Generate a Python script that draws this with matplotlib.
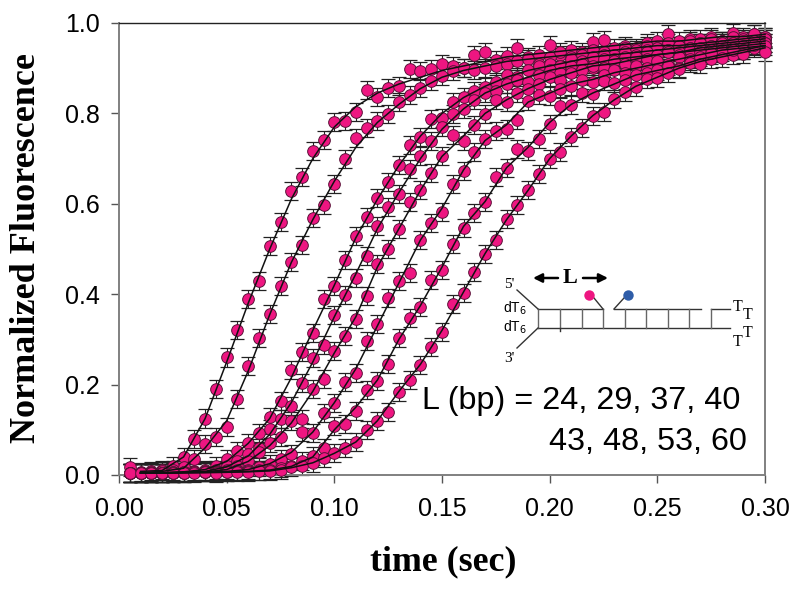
import numpy as np
import matplotlib
matplotlib.use('Agg')
import matplotlib.pyplot as plt

#time points, one reading every 5 ms
time = [i * 0.005 for i in range(1, 61)]
#fitted lines are read at every 10 ms
fit_time = [i * 0.01 for i in range(1, 31)]

L24 = [.018,.006,.008,.012,.02,.04,.08,.125,.19,.26,.32,.39,.43,.507,.56,.628,.66,.717,.741,.781,.783,.803,.852,.837,.856,.86,.898,.894,.898,.909,.905,.90,.93,.936,.918,.928,.945,.925,.93,.951,.93,.94,.935,.958,.962,.945,.95,.945,.955,.96,.975,.96,.965,.965,.97,.96,.978,.97,.975,.968]
L29 = [.005,.005,.006,.008,.01,.018,.035,.069,.084,.106,.168,.241,.303,.356,.418,.471,.509,.569,.597,.644,.70,.745,.768,.783,.798,.825,.84,.856,.872,.883,.893,.90,.897,.90,.905,.91,.915,.92,.91,.925,.935,.925,.93,.94,.935,.93,.945,.94,.95,.945,.955,.95,.96,.955,.965,.96,.97,.96,.975,.965]
L37 = [.005,.005,.004,.005,.006,.006,.008,.01,.02,.035,.053,.071,.093,.128,.164,.232,.272,.314,.389,.418,.476,.529,.571,.613,.648,.686,.73,.748,.788,.79,.825,.836,.85,.858,.87,.885,.88,.895,.905,.91,.905,.92,.915,.925,.93,.92,.935,.93,.94,.945,.94,.95,.945,.955,.95,.96,.955,.965,.96,.97]
L40 = [.004,.004,.005,.005,.006,.006,.007,.009,.012,.02,.032,.046,.06,.102,.124,.153,.204,.259,.288,.354,.398,.436,.485,.551,.593,.622,.677,.706,.739,.77,.799,.81,.83,.845,.85,.865,.875,.87,.885,.895,.89,.905,.91,.90,.92,.915,.925,.92,.935,.93,.94,.935,.945,.94,.95,.955,.945,.96,.955,.965]
L43 = [.005,.004,.004,.005,.005,.006,.006,.007,.009,.012,.02,.03,.05,.071,.084,.119,.124,.19,.212,.274,.307,.345,.396,.467,.50,.544,.604,.63,.668,.706,.752,.739,.774,.799,.83,.825,.845,.855,.865,.88,.875,.89,.895,.905,.90,.915,.91,.925,.92,.93,.935,.93,.94,.945,.94,.95,.955,.95,.96,.955]
L48 = [.004,.004,.005,.004,.005,.005,.006,.006,.007,.008,.01,.012,.018,.025,.035,.046,.095,.093,.137,.159,.206,.226,.296,.334,.392,.429,.447,.52,.558,.582,.644,.673,.715,.743,.761,.765,.785,.827,.841,.838,.855,.86,.875,.87,.885,.895,.89,.905,.90,.915,.91,.925,.92,.935,.93,.94,.945,.94,.95,.955]
L53 = [.005,.004,.004,.005,.005,.005,.006,.006,.006,.007,.008,.009,.01,.012,.016,.02,.03,.042,.06,.108,.113,.142,.188,.208,.246,.303,.347,.372,.431,.454,.511,.546,.58,.604,.659,.679,.721,.717,.743,.776,.816,.818,.845,.843,.872,.867,.875,.885,.89,.895,.905,.90,.915,.925,.92,.935,.93,.94,.945,.95]
L60 = [.004,.005,.004,.004,.005,.005,.005,.006,.005,.006,.006,.007,.008,.009,.012,.018,.02,.027,.037,.048,.06,.073,.10,.12,.139,.184,.21,.243,.283,.316,.378,.403,.45,.489,.52,.566,.597,.63,.666,.70,.715,.748,.768,.794,.803,.832,.847,.858,.876,.878,.889,.898,.911,.909,.934,.923,.94,.931,.951,.936]

fit24 = [.008,.01,.04,.125,.25,.38,.50,.61,.70,.77,.815,.845,.865,.88,.895,.905,.915,.925,.93,.935,.94,.945,.95,.955,.96,.96,.965,.97,.97,.975]
fit29 = [.005,.008,.015,.06,.12,.23,.355,.47,.565,.65,.725,.78,.82,.855,.88,.895,.905,.915,.92,.925,.93,.935,.94,.945,.95,.95,.955,.96,.965,.97]
fit37 = [.005,.005,.007,.012,.03,.07,.125,.215,.32,.42,.525,.61,.685,.75,.80,.835,.86,.88,.895,.905,.915,.925,.93,.935,.94,.945,.95,.955,.96,.965]
fit40 = [.004,.005,.006,.008,.018,.042,.09,.16,.25,.35,.445,.545,.625,.70,.765,.81,.845,.865,.88,.895,.905,.91,.92,.925,.93,.935,.945,.95,.955,.96]
fit43 = [.004,.005,.006,.007,.012,.03,.065,.115,.185,.27,.35,.46,.545,.63,.705,.75,.80,.83,.855,.875,.89,.905,.91,.92,.93,.935,.94,.945,.95,.955]
fit48 = [.004,.004,.005,.006,.008,.012,.025,.05,.095,.16,.235,.33,.425,.52,.59,.675,.74,.775,.825,.845,.865,.875,.89,.90,.91,.92,.93,.94,.945,.95]
fit53 = [.004,.004,.005,.006,.006,.008,.011,.019,.04,.10,.15,.21,.30,.375,.46,.55,.605,.68,.725,.78,.82,.845,.865,.885,.895,.905,.92,.93,.94,.95]
fit60 = [.004,.004,.005,.005,.006,.007,.009,.016,.027,.048,.073,.12,.185,.245,.32,.405,.49,.565,.63,.70,.75,.795,.83,.86,.88,.90,.915,.925,.935,.945]

series = [L24, L29, L37, L40, L43, L48, L53, L60]
fits = [fit24, fit29, fit37, fit40, fit43, fit48, fit53, fit60]
y_err = 0.02

pink = '#EE1681'
sans = 'Liberation Sans'
serif = 'Liberation Serif'

fig = plt.figure(figsize=(8, 5.95), dpi=100)
ax = fig.add_axes([119/800, 1-475/595, (765-119)/800, (475-23)/595])

for vals in series:
    eb = ax.errorbar(time, vals, yerr=y_err, fmt='none', ecolor='#222222', elinewidth=0.8,
                     capsize=5, capthick=0.9, zorder=2)
    for part in eb.lines[1] + eb.lines[2]:
        part.set_clip_on(False)
    eb.lines[1][0].set_color('#8a8a8a')  # lower caps look grey in the scan
for vals in series:
    ax.plot(time, vals, 'o', ms=8.4, mfc=pink, mec='#5a1238', mew=0.7, clip_on=False, zorder=3)
for fit in fits:
    ax.plot(fit_time, fit, color='#111111', lw=1.1, clip_on=False, zorder=4)

ax.set_xlim(0, 0.30)
ax.set_ylim(0, 1.0)
ax.set_xticks(np.arange(0, 0.31, 0.05))
ax.set_yticks(np.arange(0, 1.01, 0.2))
ax.set_xticklabels(['0.00', '0.05', '0.10', '0.15', '0.20', '0.25', '0.30'], fontname=sans, fontsize=18)
ax.set_yticklabels(['0.0', '0.2', '0.4', '0.6', '0.8', '1.0'], fontname=sans, fontsize=18)
ax.tick_params(axis='x', length=6, width=1, color='#555555', pad=10)
ax.tick_params(axis='y', length=6, width=1, color='#555555', pad=8)
for s in ['left', 'bottom', 'right']:
    ax.spines[s].set_color('#808080')
    ax.spines[s].set_linewidth(1.4)
ax.spines['top'].set_color('#222222')
ax.spines['top'].set_linewidth(1)

fig.text(443/800, 1-562/595, 'time (sec)', fontname=serif, fontweight='bold', fontsize=25.8, ha='center', va='center')
fig.text(27/800, 1-248/595, 'Normalized Fluorescence', fontname=serif, fontweight='bold', fontsize=26,
         rotation=90, ha='center', va='center')
fig.text(740/800, 1-401/595, 'L (bp) = 24, 29, 37, 40', fontname=sans, fontsize=23.3, ha='right', va='center')
fig.text(747/800, 1-442/595, '43, 48, 53, 60', fontname=sans, fontsize=23.3, ha='right', va='center')

#the duplex sketch, in picture pixels
sk = fig.add_axes([0, 0, 1, 1], facecolor='none')
sk.set_xlim(0, 800)
sk.set_ylim(595, 0)
sk.axis('off')

strand = '#333333'
sk.plot([538, 603], [309, 309], color=strand, lw=1)
sk.plot([614, 701], [309, 309], color=strand, lw=1)
sk.plot([711, 730], [309, 309], color=strand, lw=1)
sk.plot([538, 730], [328, 328], color=strand, lw=1)
for rung in [538, 560, 582, 603, 625, 646, 668, 689, 711]:
    sk.plot([rung, rung], [309, 328], color='#666666', lw=1)
sk.plot([560, 560], [328, 331], color=strand, lw=1)
sk.plot([517, 538], [290, 309], color=strand, lw=1)
sk.plot([517, 538], [348, 328], color=strand, lw=1)
sk.plot([594, 603], [298, 309], color=strand, lw=1)
sk.plot([624, 614], [298, 309], color=strand, lw=1)
sk.plot([589], [295], 'o', ms=7.5, color=pink, mew=0)
sk.plot([628], [295], 'o', ms=7.5, color='#2F5DA8', mew=0)
arrow = dict(arrowstyle='-|>', color='black', lw=1.8, shrinkA=0, shrinkB=0, mutation_scale=13)
sk.annotate('', xy=(533, 278), xytext=(558, 278), arrowprops=arrow)
sk.annotate('', xy=(608, 278), xytext=(583, 278), arrowprops=arrow)
sk.text(570, 278, 'L', fontname=serif, fontweight='bold', fontsize=16, ha='center', va='center')
sk.text(509, 284, "5'", fontname=serif, fontsize=11, ha='center', va='center')
sk.text(509, 359, "3'", fontname=serif, fontsize=11, ha='center', va='center')
sk.text(515, 308, 'dT$_6$', fontname=sans, fontsize=10, ha='center', va='center', math_fontfamily='dejavusans')
sk.text(515, 327, 'dT$_6$', fontname=sans, fontsize=10, ha='center', va='center', math_fontfamily='dejavusans')
sk.text(738, 307, 'T', fontname=serif, fontsize=11.5, ha='center', va='center')
sk.text(748, 315, 'T', fontname=serif, fontsize=11.5, ha='center', va='center')
sk.text(748, 333, 'T', fontname=serif, fontsize=11.5, ha='center', va='center')
sk.text(738, 342, 'T', fontname=serif, fontsize=11.5, ha='center', va='center')

fig.savefig('out.png', dpi=100)
